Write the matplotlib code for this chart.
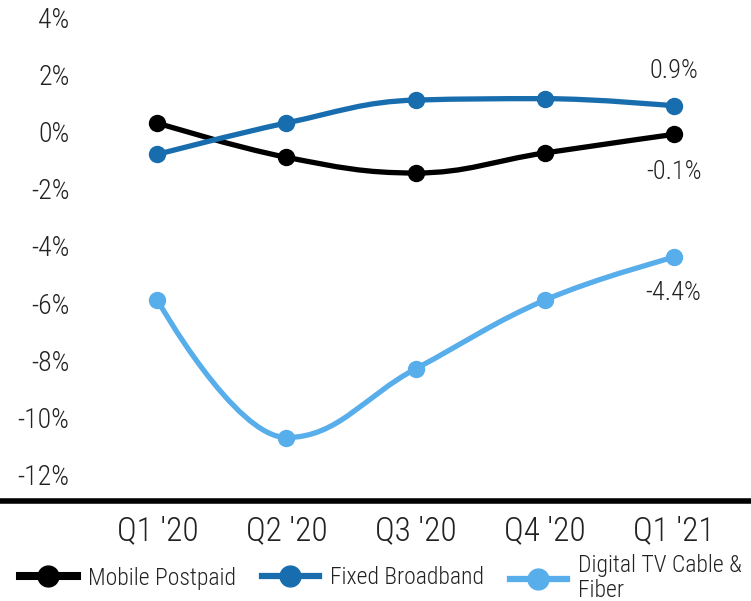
import matplotlib
matplotlib.use('Agg')
import matplotlib.pyplot as plt
from matplotlib.path import Path
from matplotlib.patches import PathPatch
from matplotlib.lines import Line2D

# quarterly growth, percent
quarters = ["Q1 '20", "Q2 '20", "Q3 '20", "Q4 '20", "Q1 '21"]
mobile_postpaid = [0.3, -0.9, -1.45, -0.75, -0.1]
fixed_broadband = [-0.8, 0.3, 1.1, 1.15, 0.9]
digital_tv = [-5.9, -10.7, -8.3, -5.9, -4.4]

names = ['Mobile Postpaid', 'Fixed Broadband', 'Digital TV Cable &\nFiber']
colors = ['#000000', '#176dad', '#57aeea']

plt.rcParams['font.family'] = ['Roboto Condensed', 'Barlow Semi Condensed', 'Roboto', 'DejaVu Sans']
plt.rcParams['font.weight'] = 300
txt = '#222222'


def spline_path(xs, ys, smoothing=1.5):
    # smooth curve through points, control points kept from overshooting
    n = len(xs)
    left = [None] * n
    right = [None] * n
    for i in range(1, n - 1):
        x, y = xs[i], ys[i]
        lx, ly = xs[i - 1], ys[i - 1]
        nx, ny = xs[i + 1], ys[i + 1]
        lcx = (smoothing * x + lx) / (smoothing + 1)
        lcy = (smoothing * y + ly) / (smoothing + 1)
        rcx = (smoothing * x + nx) / (smoothing + 1)
        rcy = (smoothing * y + ny) / (smoothing + 1)
        corr = (rcy - lcy) * (rcx - x) / (rcx - lcx) + y - rcy
        lcy += corr
        rcy += corr
        if lcy > ly and lcy > y:
            lcy = max(ly, y)
            rcy = 2 * y - lcy
        elif lcy < ly and lcy < y:
            lcy = min(ly, y)
            rcy = 2 * y - lcy
        if rcy > ny and rcy > y:
            rcy = max(ny, y)
            lcy = 2 * y - rcy
        elif rcy < ny and rcy < y:
            rcy = min(ny, y)
            lcy = 2 * y - rcy
        left[i] = (lcx, lcy)
        right[i] = (rcx, rcy)
    verts = [(xs[0], ys[0])]
    codes = [Path.MOVETO]
    for i in range(1, n):
        c1 = right[i - 1] or (xs[i - 1], ys[i - 1])
        c2 = left[i] or (xs[i], ys[i])
        verts += [c1, c2, (xs[i], ys[i])]
        codes += [Path.CURVE4] * 3
    return Path(verts, codes)


fig = plt.figure(figsize=(7.51, 6.01), dpi=100)
ax = fig.add_axes([0, 100 / 601, 1, 501 / 601])

x = list(range(len(quarters)))
for vals, c in zip([mobile_postpaid, fixed_broadband, digital_tv], colors):
    ax.add_patch(PathPatch(spline_path(x, vals), fill=False, edgecolor=c,
                           lw=3.8, capstyle='round', zorder=2))
    ax.plot(x, vals, 'o', color=c, ms=11.5, zorder=3)

ax.set_xlim(-1.22, 4.6)
ax.set_ylim(-12.92, 4.6)
ax.set_yticks(range(-12, 5, 2))
ax.set_yticklabels([f'{v}%' for v in range(-12, 5, 2)])
ax.set_xticks(x)
ax.set_xticklabels(quarters)
ax.tick_params(axis='y', length=0, pad=-50, labelsize=20, labelcolor=txt)
ax.tick_params(axis='x', length=0, pad=10, labelsize=24, labelcolor=txt)
for s in ['top', 'right', 'left']:
    ax.spines[s].set_visible(False)
ax.spines['bottom'].set_linewidth(4)

# end-of-series value labels
ax.annotate(f'{fixed_broadband[-1]}%', (x[-1], fixed_broadband[-1]),
            xytext=(0, 25), textcoords='offset points', ha='center',
            va='center', fontsize=19, color=txt)
ax.annotate(f'{mobile_postpaid[-1]}%', (x[-1], mobile_postpaid[-1]),
            xytext=(0, -27), textcoords='offset points', ha='center',
            va='center', fontsize=19, color=txt)
ax.annotate(f'{digital_tv[-1]}%', (x[-1], digital_tv[-1]),
            xytext=(0, -26), textcoords='offset points', ha='center',
            va='center', fontsize=19, color=txt)

# one legend entry per series, placed along the bottom
leg_x = [20 / 751, 262 / 751, 510 / 751]
leg_lw = [5.8, 4.5, 4.5]
for name, c, lx, lw in zip(names, colors, leg_x, leg_lw):
    h = Line2D([], [], color=c, lw=lw, marker='o', ms=15)
    leg = fig.legend([h], [name], loc='center left', bbox_to_anchor=(lx, 23 / 601),
                     frameon=False, fontsize=17, handlelength=2.4,
                     handletextpad=0.5, borderpad=0, borderaxespad=0,
                     labelspacing=0.1)
    for t in leg.get_texts():
        t.set_color(txt)
        t.set_linespacing(1.15)

fig.savefig('out.png', dpi=100)
